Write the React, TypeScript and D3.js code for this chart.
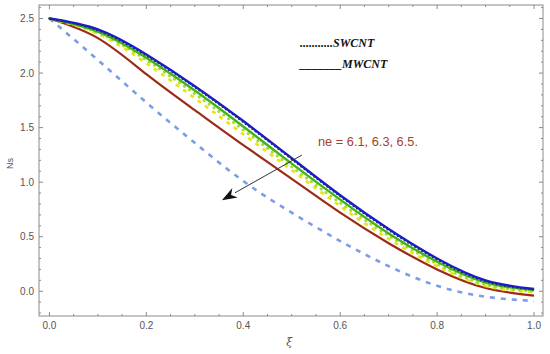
import React from 'react';
import * as d3 from 'd3';

const xi = [0, 0.1, 0.2, 0.3, 0.4, 0.5, 0.6, 0.7, 0.8, 0.9, 1.0];

// MWCNT (solid) and SWCNT (dotted / dashed) curves
const blueSolid = [2.5, 2.4, 2.17, 1.88, 1.56, 1.22, 0.88, 0.57, 0.3, 0.1, 0.02];
const navyDotted = [2.5, 2.39, 2.16, 1.87, 1.55, 1.21, 0.87, 0.56, 0.29, 0.09, 0.015];
const greenSolid = [2.5, 2.38, 2.14, 1.84, 1.51, 1.17, 0.84, 0.53, 0.27, 0.08, 0.01];
const limeDotted = [2.5, 2.37, 2.12, 1.81, 1.48, 1.14, 0.81, 0.51, 0.25, 0.06, 0.0];
const yellowDashed = [2.5, 2.36, 2.09, 1.77, 1.44, 1.11, 0.78, 0.48, 0.23, 0.05, -0.01];
const brownSolid = [2.5, 2.32, 1.99, 1.66, 1.34, 1.03, 0.72, 0.44, 0.2, 0.03, -0.04];
const lightBlueDashed = [2.5, 2.12, 1.73, 1.36, 1.01, 0.72, 0.46, 0.23, 0.05, -0.05, -0.09];

const xMajor = [0, 0.2, 0.4, 0.6, 0.8, 1.0];
const yMajor = [0, 0.5, 1.0, 1.5, 2.0, 2.5];

// arrow from (xi, Ns) to (xi, Ns)
const arrowFrom = [0.521, 1.248];
const arrowTo = [0.356, 0.835];

const width = 550;
const height = 354;
const frame = { left: 39, right: 543, top: 5, bottom: 316 };

const App = () => {
  const x = d3.scaleLinear().domain([-0.0215, 1.0185]).range([frame.left, frame.right]);
  const y = d3.scaleLinear().domain([-0.227, 2.624]).range([frame.bottom, frame.top]);

  const line = d3.line<number>()
    .x((d, i) => x(xi[i]))
    .y(d => y(d))
    .curve(d3.curveNatural);

  const series = [
    { data: lightBlueDashed, color: '#7b9de6', w: 2.6, dash: '5 6', cap: 'butt' },
    { data: brownSolid, color: '#9c2a17', w: 2.2, dash: null, cap: 'butt' },
    { data: yellowDashed, color: '#e8e41a', w: 2.8, dash: '4 5', cap: 'butt' },
    { data: limeDotted, color: '#a6dc2a', w: 3, dash: '0.1 6', cap: 'round' },
    { data: greenSolid, color: '#3fb21c', w: 2.4, dash: null, cap: 'butt' },
    { data: blueSolid, color: '#1a1ad6', w: 2.4, dash: null, cap: 'butt' },
    { data: navyDotted, color: '#202a70', w: 2, dash: '0.1 4', cap: 'round' },
  ];

  const fmt = d3.format('.1f');
  const xMinor = d3.range(0, 1.0001, 0.05).filter(v => !xMajor.some(m => Math.abs(m - v) < 1e-6));
  const yMinor = d3.range(-0.2, 2.6001, 0.1).filter(v => !yMajor.some(m => Math.abs(m - v) < 1e-6));
  const axisColor = '#8a8a8a';
  const labelColor = '#555';

  const ax1 = x(arrowFrom[0]);
  const ay1 = y(arrowFrom[1]);
  const ax2 = x(arrowTo[0]);
  const ay2 = y(arrowTo[1]);
  const ang = Math.atan2(ay2 - ay1, ax2 - ax1);
  const headLen = 15;
  const headW = 5.5;
  const bx = ax2 - headLen * Math.cos(ang);
  const by = ay2 - headLen * Math.sin(ang);
  const head = [
    [ax2, ay2],
    [bx + headW * Math.sin(ang), by - headW * Math.cos(ang)],
    [ax2 - headLen * 0.7 * Math.cos(ang), ay2 - headLen * 0.7 * Math.sin(ang)],
    [bx - headW * Math.sin(ang), by + headW * Math.cos(ang)],
  ].map(p => p.join(',')).join(' ');

  return (
    <svg width={width} height={height} style={{ position: 'absolute', left: 0, top: 0, background: '#fff' }}>
      <defs>
        <clipPath id="plot">
          <rect x={frame.left} y={frame.top} width={frame.right - frame.left} height={frame.bottom - frame.top} />
        </clipPath>
      </defs>

      {/* curves */}
      <g clipPath="url(#plot)" fill="none">
        {series.map((s, i) => (
          <path key={i} d={line(s.data) || ''} stroke={s.color} strokeWidth={s.w}
            strokeDasharray={s.dash || undefined} strokeLinecap={s.cap as any} />
        ))}
      </g>

      {/* frame */}
      <rect x={frame.left} y={frame.top} width={frame.right - frame.left} height={frame.bottom - frame.top}
        fill="none" stroke={axisColor} strokeWidth={1} />

      {/* ticks */}
      <g stroke={axisColor} strokeWidth={1}>
        {xMajor.map(v => (
          <g key={'xm' + v}>
            <line x1={x(v)} x2={x(v)} y1={frame.bottom} y2={frame.bottom - 4} />
            <line x1={x(v)} x2={x(v)} y1={frame.top} y2={frame.top + 4} />
          </g>
        ))}
        {xMinor.map(v => (
          <g key={'xn' + v}>
            <line x1={x(v)} x2={x(v)} y1={frame.bottom} y2={frame.bottom - 2} />
            <line x1={x(v)} x2={x(v)} y1={frame.top} y2={frame.top + 2} />
          </g>
        ))}
        {yMajor.map(v => (
          <g key={'ym' + v}>
            <line x1={frame.left} x2={frame.left + 4} y1={y(v)} y2={y(v)} />
            <line x1={frame.right} x2={frame.right - 4} y1={y(v)} y2={y(v)} />
          </g>
        ))}
        {yMinor.map(v => (
          <g key={'yn' + v}>
            <line x1={frame.left} x2={frame.left + 2} y1={y(v)} y2={y(v)} />
            <line x1={frame.right} x2={frame.right - 2} y1={y(v)} y2={y(v)} />
          </g>
        ))}
      </g>

      {/* tick labels */}
      <g fontFamily="Liberation Sans, Arial, sans-serif" fontSize={10} fill={labelColor}>
        {xMajor.map(v => (
          <text key={'xl' + v} x={x(v)} y={frame.bottom + 13} textAnchor="middle">{fmt(v)}</text>
        ))}
        {yMajor.map(v => (
          <text key={'yl' + v} x={frame.left - 5} y={y(v) + 3.5} textAnchor="end">{fmt(v)}</text>
        ))}
      </g>

      {/* axis titles */}
      <text x={x(0.495)} y={346} textAnchor="middle" fontFamily="DejaVu Serif, serif" fontStyle="italic"
        fontSize={11} fill={labelColor}>ξ</text>
      <text transform={`translate(13,${y(1.17)}) rotate(-90)`} textAnchor="middle"
        fontFamily="Liberation Sans, Arial, sans-serif" fontSize={9} fill={labelColor}>Ns</text>

      {/* legend */}
      <g fontFamily="Liberation Serif, Times New Roman, serif" fontStyle="italic" fontWeight="bold"
        fontSize={12} fill="#111">
        <text x={300} y={47}>...........SWCNT</text>
        <text x={300} y={68}>_______MWCNT</text>
      </g>

      {/* annotation */}
      <text x={318} y={146} fontFamily="Liberation Sans, Arial, sans-serif" fontSize={12.8} fill="#a8402a">
        ne = 6.1, 6.3, 6.5.
      </text>
      <line x1={ax1} y1={ay1} x2={bx} y2={by} stroke="#333" strokeWidth={1} />
      <polygon points={head} fill="#111" />
    </svg>
  );
};

export default App;
